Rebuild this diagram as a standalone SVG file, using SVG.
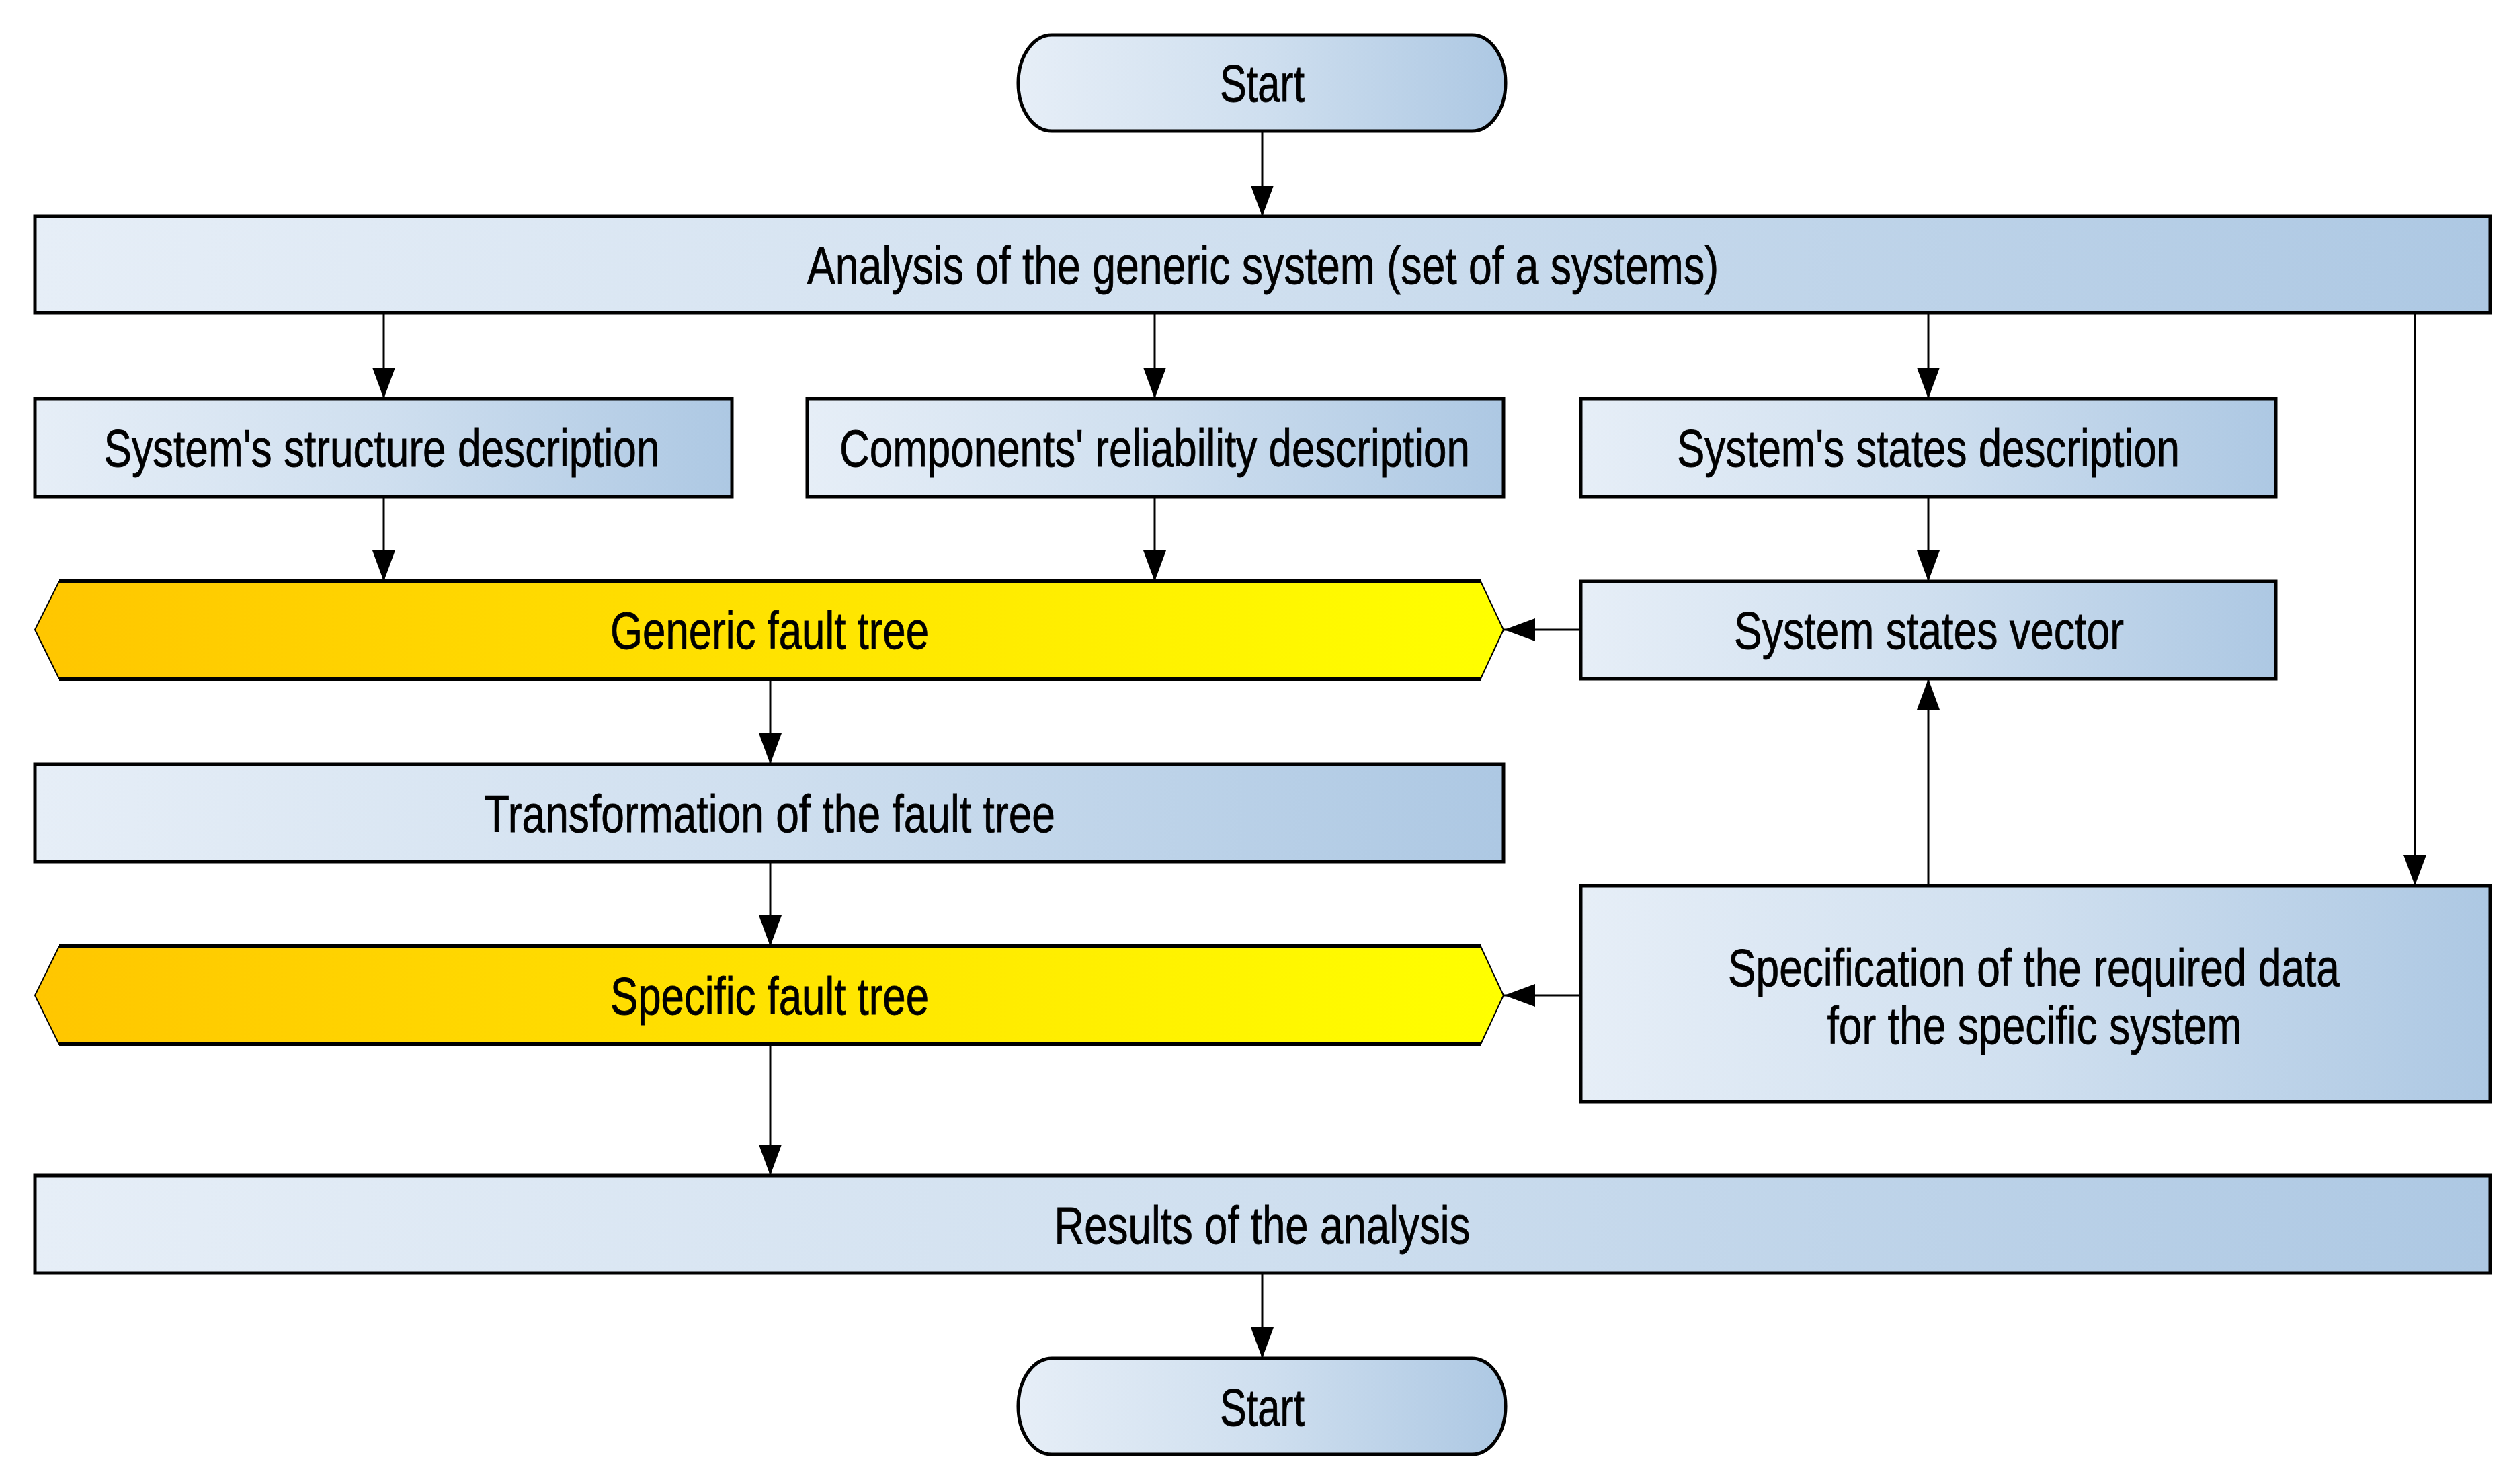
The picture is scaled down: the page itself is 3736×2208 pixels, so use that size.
<svg xmlns="http://www.w3.org/2000/svg" width="3736" height="2208" viewBox="0 0 3736 2208">
<defs>
<linearGradient id="blue" x1="0" y1="0" x2="1" y2="0">
<stop offset="0" stop-color="#e6eef7"/>
<stop offset="0.5" stop-color="#cfdfef"/>
<stop offset="1" stop-color="#adc8e3"/>
</linearGradient>
<linearGradient id="yellow" x1="0" y1="0" x2="1" y2="0">
<stop offset="0" stop-color="#ffc600"/>
<stop offset="0.45" stop-color="#ffe000"/>
<stop offset="1" stop-color="#ffff00"/>
</linearGradient>
<marker id="arr" viewBox="0 0 46 34" refX="46" refY="17" markerWidth="46" markerHeight="34" markerUnits="userSpaceOnUse" orient="auto">
<path d="M0,0 L46,17 L0,34 Z" fill="#000"/>
</marker>
</defs>
<style>
.box{fill:url(#blue);stroke:#000;stroke-width:5}
.hex{fill:url(#yellow);stroke:#000;stroke-width:2}
.hexedge{stroke:#000;stroke-width:6}
.t{font-family:"Liberation Sans",Arial,sans-serif;font-size:78px;fill:#000;text-anchor:middle;stroke:#000;stroke-width:0.8}
.c{fill:none;stroke:#000;stroke-width:3;marker-end:url(#arr)}
</style>
<rect width="3736" height="2208" fill="#fff"/>
<g id="connectors">
<line class="c" x1="1878" y1="195" x2="1878" y2="322"/>
<line class="c" x1="571" y1="465" x2="571" y2="593"/>
<line class="c" x1="1718" y1="465" x2="1718" y2="593"/>
<line class="c" x1="2869" y1="465" x2="2869" y2="593"/>
<line class="c" x1="3593" y1="465" x2="3593" y2="1318"/>
<line class="c" x1="571" y1="739" x2="571" y2="865"/>
<line class="c" x1="1718" y1="739" x2="1718" y2="865"/>
<line class="c" x1="2869" y1="739" x2="2869" y2="865"/>
<line class="c" x1="2352" y1="937" x2="2238" y2="937"/>
<line class="c" x1="1146" y1="1010" x2="1146" y2="1137"/>
<line class="c" x1="1146" y1="1282" x2="1146" y2="1408"/>
<line class="c" x1="2869" y1="1318" x2="2869" y2="1010"/>
<line class="c" x1="2352" y1="1481" x2="2238" y2="1481"/>
<line class="c" x1="1146" y1="1554" x2="1146" y2="1749"/>
<line class="c" x1="1878" y1="1894" x2="1878" y2="2021"/>
</g>
<g id="start-top">
<rect class="box" x="1515" y="52" width="725" height="143" rx="50" ry="71"/>
<text class="t" x="1878" y="151" textLength="126" lengthAdjust="spacingAndGlyphs">Start</text>
</g>
<g id="analysis">
<rect class="box" x="52" y="322" width="3653" height="143"/>
<text class="t" x="1879" y="422" textLength="1356" lengthAdjust="spacingAndGlyphs">Analysis of the generic system (set of a systems)</text>
</g>
<g id="structure">
<rect class="box" x="52" y="593" width="1037" height="146"/>
<text class="t" x="568" y="694" textLength="827" lengthAdjust="spacingAndGlyphs">System's structure description</text>
</g>
<g id="components">
<rect class="box" x="1201" y="593" width="1036" height="146"/>
<text class="t" x="1718" y="694" textLength="938" lengthAdjust="spacingAndGlyphs">Components' reliability description</text>
</g>
<g id="states">
<rect class="box" x="2352" y="593" width="1034" height="146"/>
<text class="t" x="2869" y="694" textLength="748" lengthAdjust="spacingAndGlyphs">System's states description</text>
</g>
<g id="generic">
<polygon class="hex" points="52,937 88,865 2203,865 2237,937 2203,1010 88,1010"/>
<line class="hexedge" x1="88" y1="865" x2="2203" y2="865"/>
<line class="hexedge" x1="88" y1="1010" x2="2203" y2="1010"/>
<text class="t" x="1145" y="965" textLength="474" lengthAdjust="spacingAndGlyphs">Generic fault tree</text>
</g>
<g id="vector">
<rect class="box" x="2352" y="865" width="1034" height="145"/>
<text class="t" x="2870" y="965" textLength="580" lengthAdjust="spacingAndGlyphs">System states vector</text>
</g>
<g id="transformation">
<rect class="box" x="52" y="1137" width="2185" height="145"/>
<text class="t" x="1145" y="1238" textLength="850" lengthAdjust="spacingAndGlyphs">Transformation of the fault tree</text>
</g>
<g id="specific">
<polygon class="hex" points="52,1481 88,1408 2203,1408 2237,1481 2203,1554 88,1554"/>
<line class="hexedge" x1="88" y1="1408" x2="2203" y2="1408"/>
<line class="hexedge" x1="88" y1="1554" x2="2203" y2="1554"/>
<text class="t" x="1145" y="1509" textLength="474" lengthAdjust="spacingAndGlyphs">Specific fault tree</text>
</g>
<g id="specification">
<rect class="box" x="2352" y="1318" width="1353" height="321"/>
<text class="t" x="3026" y="1467" textLength="910" lengthAdjust="spacingAndGlyphs">Specification of the required data</text>
<text class="t" x="3027" y="1553" textLength="617" lengthAdjust="spacingAndGlyphs">for the specific system</text>
</g>
<g id="results">
<rect class="box" x="52" y="1749" width="3653" height="145"/>
<text class="t" x="1878" y="1850" textLength="619" lengthAdjust="spacingAndGlyphs">Results of the analysis</text>
</g>
<g id="start-bottom">
<rect class="box" x="1515" y="2021" width="725" height="143" rx="50" ry="71"/>
<text class="t" x="1878" y="2121" textLength="126" lengthAdjust="spacingAndGlyphs">Start</text>
</g>
</svg>
